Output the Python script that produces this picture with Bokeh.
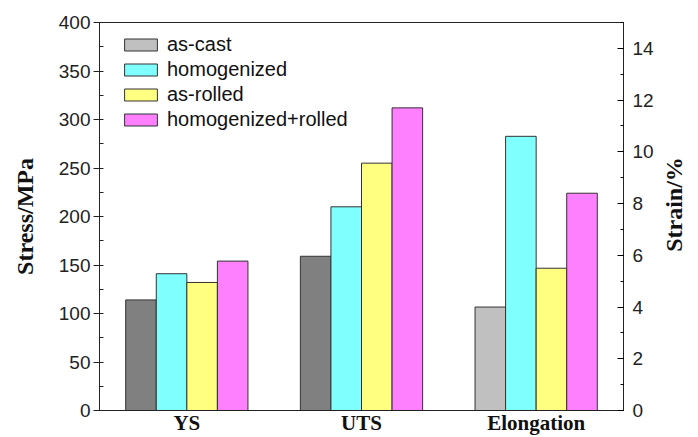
import math
from bokeh.plotting import figure
from bokeh.layouts import row
from bokeh.models import Range1d, LinearAxis, FixedTicker, ColumnDataSource, Legend, LegendItem
from bokeh.core.properties import value
from bokeh.embed import file_html
from bokeh.resources import INLINE

categories = ["YS", "UTS", "Elongation"]
series = ["as-cast", "homogenized", "as-rolled", "homogenized+rolled"]
ys_vals = [114, 141, 132, 154]
uts_vals = [159, 210, 255, 312]
elong_vals = [4.0, 10.6, 5.5, 8.4]
stress_colors = ["#808080", "#80FFFF", "#FFFF80", "#FF80FF"]
strain_colors = ["#C0C0C0", "#80FFFF", "#FFFF80", "#FF80FF"]
stress_ticks = list(range(0, 401, 50))
stress_minor = list(range(0, 401, 25))
strain_ticks = list(range(0, 15, 2))
strain_minor = list(range(0, 16, 1))

PW, PH = 656, 437
p = figure(width=PW, height=PH, x_range=Range1d(-0.5, 2.5), y_range=Range1d(0, 400),
           output_backend="svg", toolbar_location=None,
           min_border_left=99, min_border_right=32, min_border_top=22, min_border_bottom=24)
p.extra_y_ranges = {"strain": Range1d(0, 15)}
p.xgrid.visible = False
p.ygrid.visible = False
p.outline_line_color = "#222222"
p.outline_line_width = 1

bw = 0.175
items = []
for i, s in enumerate(series):
    off = (i - 1.5) * bw
    src = ColumnDataSource(dict(x=[0 + off, 1 + off], top=[ys_vals[i], uts_vals[i]]))
    p.vbar(x="x", top="top", width=bw, source=src, fill_color=stress_colors[i],
           line_color="#333333", line_width=1)
    src2 = ColumnDataSource(dict(x=[2 + off], top=[elong_vals[i]]))
    r = p.vbar(x="x", top="top", width=bw, source=src2, y_range_name="strain",
               fill_color=strain_colors[i], line_color="#333333", line_width=1)
    items.append(LegendItem(label=s, renderers=[r]))

# left axis
yl = p.yaxis[0]
yl.ticker = FixedTicker(ticks=stress_ticks, minor_ticks=stress_minor)
yl.axis_label = "Stress/MPa"
yl.axis_label_text_font = "Liberation Serif"
yl.axis_label_text_font_style = "bold"
yl.axis_label_text_font_size = "24px"
yl.axis_label_text_color = "#111111"
yl.axis_label_standoff = 18
yl.major_label_text_font = "Liberation Sans"
yl.major_label_text_font_size = "19px"
yl.major_label_text_color = "#222222"
yl.major_label_standoff = 3
yl.major_tick_out = 6
yl.major_tick_in = 0
yl.minor_tick_out = 0
yl.minor_tick_in = 4
yl.axis_line_color = "#222222"
yl.major_tick_line_color = "#222222"
yl.minor_tick_line_color = "#222222"

# right axis
yr = LinearAxis(y_range_name="strain",
                ticker=FixedTicker(ticks=strain_ticks, minor_ticks=strain_minor))
yr.major_label_text_font = "Liberation Sans"
yr.major_label_text_font_size = "19px"
yr.major_label_text_color = "#222222"
yr.major_label_standoff = 9
yr.major_tick_out = 0
yr.major_tick_in = 6
yr.minor_tick_out = 0
yr.minor_tick_in = 3
yr.axis_line_color = "#222222"
p.add_layout(yr, "right")

# bottom axis
xa = p.xaxis[0]
xa.ticker = FixedTicker(ticks=[0, 1, 2], minor_ticks=[])
xa.major_label_overrides = {i: c for i, c in enumerate(categories)}
xa.major_label_text_font = "Liberation Serif"
xa.major_label_text_font_style = "bold"
xa.major_label_text_font_size = "21px"
xa.major_label_text_color = "#111111"
xa.major_label_standoff = 0
xa.major_tick_out = 0
xa.major_tick_in = 0
xa.minor_tick_out = 0
xa.minor_tick_in = 0
xa.axis_line_color = "#222222"

legend = Legend(items=items, location=(21, 279))
legend.glyph_width = 41
legend.glyph_height = 15
legend.label_text_font = "Liberation Sans"
legend.label_text_font_size = "20px"
legend.label_text_color = "#111111"
legend.label_standoff = 6
legend.label_height = 20
legend.spacing = 2
legend.padding = 0
legend.margin = 0
legend.border_line_alpha = 0
legend.background_fill_alpha = 0
p.add_layout(legend)

# right-hand title strip: "Strain/%" reading bottom-to-top as in the reference
TW = 42
t = figure(width=TW, height=PH, x_range=Range1d(0, TW), y_range=Range1d(0, PH),
           output_backend="svg", toolbar_location=None,
           x_axis_location=None, y_axis_location=None,
           min_border_left=0, min_border_right=0, min_border_top=0, min_border_bottom=0)
t.xgrid.visible = False
t.ygrid.visible = False
t.outline_line_color = None
t.text(x=[17], y=[PH - 205], text=["Strain/%"], angle=math.pi / 2,
       text_align="center", text_baseline="middle",
       text_font=value("Liberation Serif"), text_font_style="bold",
       text_font_size="24px", text_color="#111111")

layout = row(p, t, spacing=0)
open("out.html", "w").write(file_html(layout, INLINE))
